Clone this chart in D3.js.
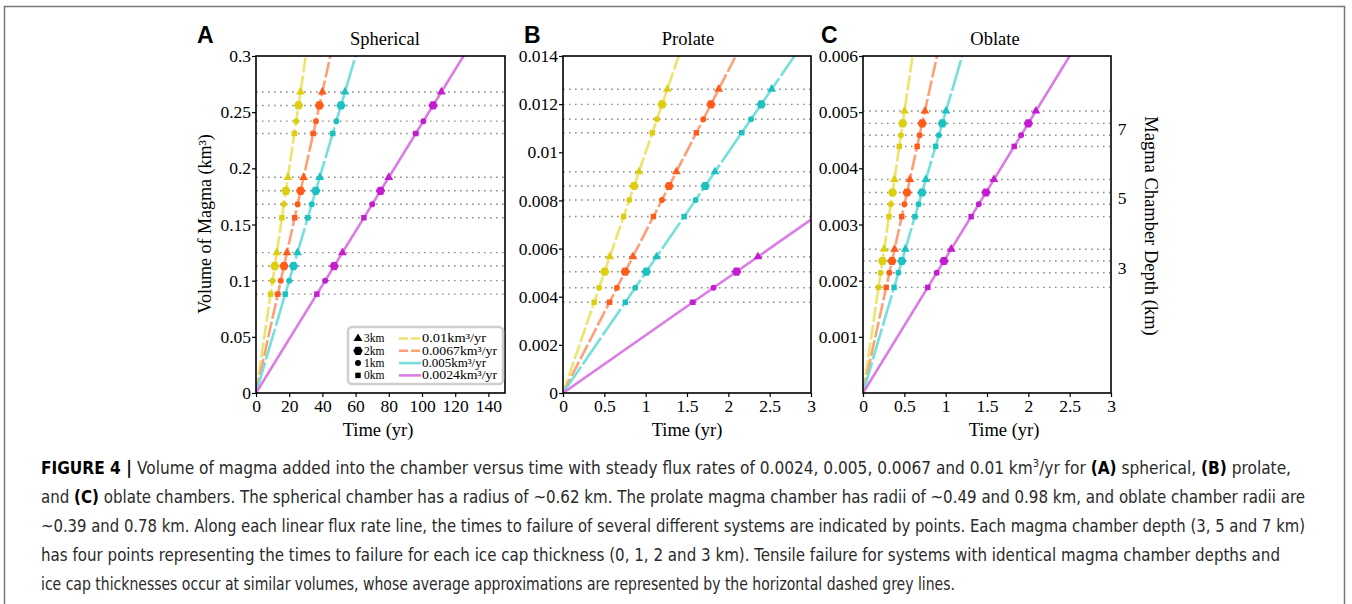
<!DOCTYPE html>
<html>
<head>
<meta charset="utf-8">
<script src="https://cdn.jsdelivr.net/npm/d3@7"></script>
<style>
body { margin: 0; background: #fff; }
</style>
</head>
<body>
<div id="figure"></div>
<script>
// flux rates (km3/yr) and legend labels
const rates = [0.01, 0.0067, 0.005, 0.0024];
const rateLabels = ["0.01km³/yr", "0.0067km³/yr", "0.005km³/yr", "0.0024km³/yr"];
// ice cap thickness, in legend order (top to bottom)
const iceLabels = ["3km", "2km", "1km", "0km"];
const depths = [3, 5, 7];

// failure volumes (km3): one row per chamber depth (3, 5, 7 km),
// columns = ice cap thickness 0, 1, 2, 3 km
const sphericalVol = [
    [0.088, 0.100, 0.113, 0.125],
    [0.156, 0.168, 0.180, 0.192],
    [0.231, 0.242, 0.256, 0.268]
];
const prolateVol = [
    [0.00377, 0.00437, 0.00504, 0.00566],
    [0.00733, 0.00802, 0.00860, 0.00919],
    [0.01081, 0.01137, 0.01199, 0.01262]
];
const oblateVol = [
    [0.00188, 0.00214, 0.00235, 0.00256],
    [0.00314, 0.00336, 0.00357, 0.00380],
    [0.00439, 0.00459, 0.00480, 0.00502]
];

// axis ticks
const sphericalXTicks = [0, 20, 40, 60, 80, 100, 120, 140];
const sphericalYTicks = [0, 0.05, 0.1, 0.15, 0.2, 0.25, 0.3];
const prolateXTicks = [0, 0.5, 1, 1.5, 2, 2.5, 3];
const prolateYTicks = [0, 0.002, 0.004, 0.006, 0.008, 0.01, 0.012, 0.014];
const oblateXTicks = [0, 0.5, 1, 1.5, 2, 2.5, 3];
const oblateYTicks = [0.001, 0.002, 0.003, 0.004, 0.005, 0.006];

// styles
const lineColors = ["#ece46c", "#ff9f78", "#74e0dc", "#dd7be5"];
const markColors = ["#dccf12", "#ff5c1c", "#1cc2c2", "#c41ccf"];
const lineDash = ["15,3", "16,3", "32,3", null];
const serif = "'Liberation Serif', 'Times New Roman', serif";

const width = 1352;
const height = 604;
const plotTop = 56;
const plotBottom = 393;

const svg = d3.select("#figure")
    .append("svg")
    .attr("width", width)
    .attr("height", height);

// outer figure frame
svg.append("rect")
    .attr("x", 4.5)
    .attr("y", 6.5)
    .attr("width", 1340)
    .attr("height", 640)
    .attr("fill", "none")
    .attr("stroke", "#777")
    .attr("stroke-width", 1.5);

// hexagon marker for the 2km points
const symbolHex = {
    draw(ctx, size) {
        const r = Math.sqrt(2 * size / (3 * Math.sqrt(3)));
        for (let i = 0; i < 6; i++) {
            const a = Math.PI / 3 * i;
            if (i == 0) ctx.moveTo(r * Math.cos(a), r * Math.sin(a));
            else ctx.lineTo(r * Math.cos(a), r * Math.sin(a));
        }
        ctx.closePath();
    }
};
// index = ice cap thickness 0..3 km
const iceSymbols = [
    d3.symbol().type(d3.symbolSquare).size(30),
    d3.symbol().type(d3.symbolCircle).size(28),
    d3.symbol().type(symbolHex).size(58),
    d3.symbol().type(d3.symbolTriangle).size(34)
];

const panels = [
    {key: "A", title: "Spherical", left: 256, right: 505, xMax: 150, yMax: 0.3,
     vol: sphericalVol, xTicks: sphericalXTicks, yTicks: sphericalYTicks,
     titleX: 385, timeX: 378, letterX: 197},
    {key: "B", title: "Prolate", left: 563, right: 811, xMax: 3, yMax: 0.014,
     vol: prolateVol, xTicks: prolateXTicks, yTicks: prolateYTicks,
     titleX: 688, timeX: 687, letterX: 524},
    {key: "C", title: "Oblate", left: 863, right: 1111, xMax: 3, yMax: 0.006,
     vol: oblateVol, xTicks: oblateXTicks, yTicks: oblateYTicks,
     titleX: 995, timeX: 1004, letterX: 821}
];

panels.forEach(function (p) {
    const x = d3.scaleLinear().domain([0, p.xMax]).range([p.left, p.right]);
    const y = d3.scaleLinear().domain([0, p.yMax]).range([plotBottom, plotTop]);
    const g = svg.append("g");

    g.append("clipPath")
        .attr("id", "clip" + p.key)
        .append("rect")
        .attr("x", p.left)
        .attr("y", plotTop)
        .attr("width", p.right - p.left)
        .attr("height", plotBottom - plotTop);

    // horizontal dotted grey lines at the failure volumes
    g.selectAll(".level")
        .data(p.vol.flat())
        .enter()
        .append("line")
        .attr("x1", p.left)
        .attr("x2", p.right)
        .attr("y1", d => y(d))
        .attr("y2", d => y(d))
        .attr("stroke", "#8a8a8a")
        .attr("stroke-width", 1.4)
        .attr("stroke-dasharray", "1.6,4.4");

    const plotArea = g.append("g")
        .attr("clip-path", "url(#clip" + p.key + ")");

    // steady flux lines V = q * t
    const line = d3.line().x(d => x(d[0])).y(d => y(d[1]));
    rates.forEach(function (q, i) {
        plotArea.append("path")
            .datum([[0, 0], [p.xMax, q * p.xMax]])
            .attr("d", line)
            .attr("fill", "none")
            .attr("stroke", lineColors[i])
            .attr("stroke-width", 2.6)
            .attr("stroke-dasharray", lineDash[i]);
    });

    // times to failure along each flux line
    rates.forEach(function (q, i) {
        p.vol.forEach(function (row) {
            row.forEach(function (v, ice) {
                plotArea.append("path")
                    .attr("d", iceSymbols[ice]())
                    .attr("transform", `translate(${x(v / q)},${y(v)})`)
                    .attr("fill", markColors[i]);
            });
        });
    });

    // axes
    const xAxis = g.append("g")
        .attr("transform", `translate(0,${plotBottom})`)
        .call(d3.axisBottom(x).tickValues(p.xTicks).tickFormat(d => String(d))
            .tickSize(4).tickPadding(3));
    const yAxis = g.append("g")
        .attr("transform", `translate(${p.left},0)`)
        .call(d3.axisLeft(y).tickValues(p.yTicks).tickFormat(d => String(d))
            .tickSize(4).tickPadding(1));
    [xAxis, yAxis].forEach(function (a) {
        a.select(".domain").remove();
        a.attr("font-family", serif).attr("font-size", 17.5);
        a.selectAll("line").attr("stroke", "#000").attr("stroke-width", 1.2);
        a.selectAll("text").attr("fill", "#000");
    });

    // plot frame
    g.append("rect")
        .attr("x", p.left)
        .attr("y", plotTop)
        .attr("width", p.right - p.left)
        .attr("height", plotBottom - plotTop)
        .attr("fill", "none")
        .attr("stroke", "#000")
        .attr("stroke-width", 1.6);

    g.append("text")
        .attr("x", p.titleX)
        .attr("y", 45)
        .attr("text-anchor", "middle")
        .attr("font-family", serif)
        .attr("font-size", 18.5)
        .text(p.title);

    g.append("text")
        .attr("x", p.timeX)
        .attr("y", 436)
        .attr("text-anchor", "middle")
        .attr("font-family", serif)
        .attr("font-size", 18.5)
        .text("Time (yr)");

    g.append("text")
        .attr("x", p.letterX)
        .attr("y", 43)
        .attr("font-family", "'Liberation Sans', Arial, sans-serif")
        .attr("font-weight", "bold")
        .attr("font-size", 23)
        .text(p.key);

    p.x = x;
    p.y = y;
});

// left axis title
svg.append("text")
    .attr("transform", "translate(211,224) rotate(-90)")
    .attr("text-anchor", "middle")
    .attr("font-family", serif)
    .attr("font-size", 18)
    .text("Volume of Magma (km³)");

// right axis: chamber depth, placed at the middle of each group in panel C
const oblateY = panels[2].y;
depths.forEach(function (dep, k) {
    svg.append("text")
        .attr("x", 1122)
        .attr("y", oblateY(d3.mean(oblateVol[k])))
        .attr("dy", "0.35em")
        .attr("text-anchor", "middle")
        .attr("font-family", serif)
        .attr("font-size", 17.5)
        .text(dep);
});
svg.append("text")
    .attr("transform", "translate(1145,226) rotate(90)")
    .attr("text-anchor", "middle")
    .attr("font-family", serif)
    .attr("font-size", 18.5)
    .text("Magma Chamber Depth (km)");

// legend in panel A
const legend = svg.append("g");
legend.append("rect")
    .attr("x", 348)
    .attr("y", 327)
    .attr("width", 155)
    .attr("height", 57)
    .attr("rx", 4)
    .attr("fill", "#fff")
    .attr("stroke", "#cfcfcf")
    .attr("stroke-width", 2.5);
iceLabels.forEach(function (lab, i) {
    const cy = 338.5 + i * 12.3;
    legend.append("path")
        .attr("d", iceSymbols[3 - i]())
        .attr("transform", `translate(358,${cy})`)
        .attr("fill", "#000");
    legend.append("text")
        .attr("x", 364)
        .attr("y", cy)
        .attr("dy", "0.33em")
        .attr("font-family", serif)
        .attr("font-size", 11.5)
        .text(lab);
    legend.append("line")
        .attr("x1", 399)
        .attr("x2", 421)
        .attr("y1", cy)
        .attr("y2", cy)
        .attr("stroke", lineColors[i])
        .attr("stroke-width", 2.6)
        .attr("stroke-dasharray", i < 2 ? "9,3" : null);
    legend.append("text")
        .attr("x", 422)
        .attr("y", cy)
        .attr("dy", "0.33em")
        .attr("font-family", serif)
        .attr("font-size", 11.5)
        .attr("textLength", rateLabels[i].length > 11 ? 75 : 64)
        .attr("lengthAdjust", "spacingAndGlyphs")
        .text(rateLabels[i]);
});

// caption
const captionLines = [
    [["FIGURE 4 | ", "b"], ["Volume of magma added into the chamber versus time with steady flux rates of 0.0024, 0.005, 0.0067 and 0.01 km"], ["3", "sup"], ["/yr for "], ["(A)", "b"], [" spherical, "], ["(B)", "b"], [" prolate,"]],
    [["and "], ["(C)", "b"], [" oblate chambers. The spherical chamber has a radius of ~0.62 km. The prolate magma chamber has radii of ~0.49 and 0.98 km, and oblate chamber radii are"]],
    [["~0.39 and 0.78 km. Along each linear flux rate line, the times to failure of several different systems are indicated by points. Each magma chamber depth (3, 5 and 7 km)"]],
    [["has four points representing the times to failure for each ice cap thickness (0, 1, 2 and 3 km). Tensile failure for systems with identical magma chamber depths and"]],
    [["ice cap thicknesses occur at similar volumes, whose average approximations are represented by the horizontal dashed grey lines."]]
];
const captionEnds = [1291, 1305, 1305, 1280, 955];

captionLines.forEach(function (segs, i) {
    const t = svg.append("text")
        .attr("x", 41)
        .attr("y", 474 + i * 29)
        .attr("font-family", "'Liberation Sans Narrow', 'DejaVu Sans Condensed', 'Liberation Sans', sans-serif")
        .attr("font-size", 17)
        .attr("fill", "#2a2a2a")
        .attr("textLength", captionEnds[i] - 41)
        .attr("lengthAdjust", "spacingAndGlyphs");
    segs.forEach(function (s) {
        const ts = t.append("tspan").text(s[0]);
        if (s[1] == "b") ts.attr("font-weight", "bold").attr("fill", "#000");
        if (s[1] == "sup") {
            ts.attr("font-size", 11).attr("dy", -7);
        }
        if (s[0] == "/yr for ") ts.attr("dy", 7);
    });
});
</script>
</body>
</html>
